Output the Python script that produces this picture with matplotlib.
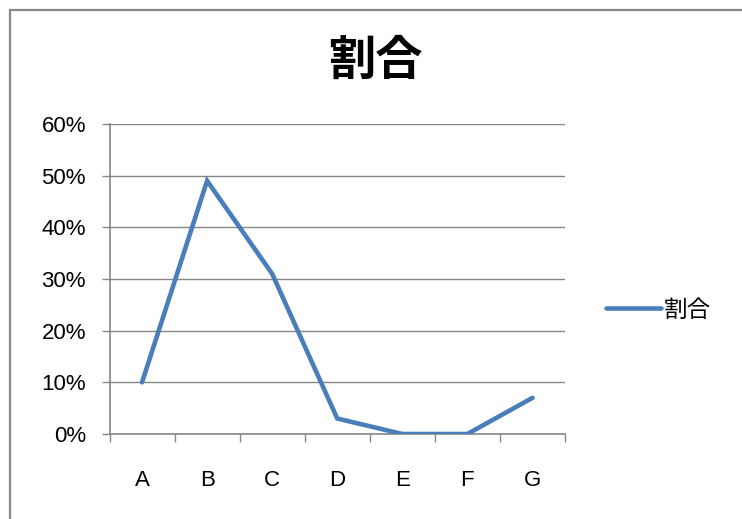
import matplotlib.pyplot as plt
from matplotlib.lines import Line2D
from matplotlib.ticker import FixedLocator, PercentFormatter

plt.rcParams['font.family'] = ['Liberation Sans', 'Noto Sans CJK JP', 'DejaVu Sans']

categories = ['A', 'B', 'C', 'D', 'E', 'F', 'G']
ratio = [0.10, 0.49, 0.31, 0.03, 0.00, 0.00, 0.07]
series_name = '割合'
title = '割合'

W, H = 742, 519
fig = plt.figure(figsize=(W / 100, H / 100), dpi=100)

# outer chart frame (only left/top visible in the crop)
fig.add_artist(Line2D([9.5 / W, 9.5 / W], [0, 1 - 9.5 / H], color='#878787', lw=1.6))
fig.add_artist(Line2D([9.5 / W, 1], [1 - 9.5 / H, 1 - 9.5 / H], color='#878787', lw=1.6))

ax = fig.add_axes([109.5 / W, (H - 434) / H, (565 - 109.5) / W, (434 - 124) / H])

x = list(range(len(categories)))
ax.plot(x, ratio, color='#4A7EBB', lw=3.3, solid_capstyle='round', solid_joinstyle='miter',
        label=series_name, zorder=3)

ax.set_xlim(-0.5, len(categories) - 0.5)
ax.set_ylim(0, 0.6)
ax.yaxis.set_major_locator(FixedLocator([i / 10 for i in range(7)]))
ax.yaxis.set_major_formatter(PercentFormatter(1.0, decimals=0))
ax.grid(axis='y', color='#868686', lw=1.0)
ax.set_axisbelow(True)

ax.set_xticks(x)
ax.set_xticklabels(categories)
ax.set_xticks([i - 0.5 for i in range(len(categories) + 1)], minor=True)
ax.tick_params(axis='x', which='major', length=0, pad=26, labelsize=16)
ax.tick_params(axis='x', which='minor', length=6, width=1.0, color='#868686', direction='out')
ax.tick_params(axis='y', length=6, width=1.0, color='#868686', labelsize=16, pad=11)

for s in ['top', 'right']:
    ax.spines[s].set_visible(False)
for s in ['left', 'bottom']:
    ax.spines[s].set_color('#868686')
    ax.spines[s].set_linewidth(1.2)

fig.text(375 / W, 1 - 61 / H, title, ha='center', va='center', fontsize=34, fontweight='bold',
         family=['Noto Sans CJK JP', 'DejaVu Sans'])

leg = fig.legend(handles=ax.get_lines(), loc='center left', bbox_to_anchor=(585 / W, 1 - 310 / H),
                 frameon=False, handlelength=2.3, handletextpad=0.12,
                 prop={'family': ['Noto Sans CJK JP', 'DejaVu Sans'], 'size': 17})

fig.savefig('out.png', dpi=100, facecolor='white')
